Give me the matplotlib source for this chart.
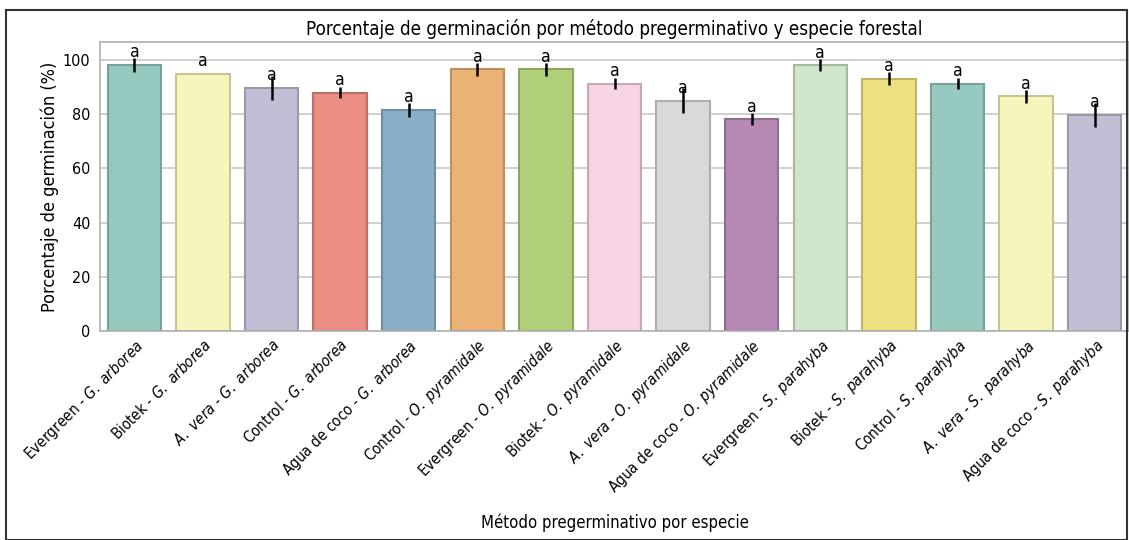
import numpy as np
import matplotlib.pyplot as plt
from matplotlib.patches import Rectangle
import seaborn as sns

# Texto algo estrechado, como en la figura original
plt.rcParams['font.family'] = 'DejaVu Sans'
plt.rcParams['font.stretch'] = 'condensed'
plt.rcParams['mathtext.fontset'] = 'custom'
plt.rcParams['mathtext.it'] = 'DejaVu Sans:italic:stretch=condensed'
plt.rcParams['mathtext.rm'] = 'DejaVu Sans:stretch=condensed'

# Datos
metodos = ['Evergreen', 'Biotek', r'$\mathit{A.\ vera}$', 'Control', 'Agua de coco',
           'Control', 'Evergreen', 'Biotek', r'$\mathit{A.\ vera}$', 'Agua de coco',
           'Evergreen', 'Biotek', 'Control', r'$\mathit{A.\ vera}$', 'Agua de coco']
especies = [r'$\mathit{G.\ arborea}$'] * 5 + [r'$\mathit{O.\ pyramidale}$'] * 5 + \
           [r'$\mathit{S.\ parahyba}$'] * 5
medias = [98.2, 94.8, 89.7, 88.0, 81.5,
          96.5, 96.5, 91.3, 84.9, 78.1,
          98.0, 93.1, 91.3, 86.6, 79.7]
errores = [2.6, 0.0, 4.5, 2.2, 2.5,
           2.4, 2.4, 2.1, 4.6, 2.2,
           2.2, 2.5, 2.1, 2.5, 4.3]
letras = ['a'] * 15

etiquetas = [f'{m} - {e}' for m, e in zip(metodos, especies)]

# Paleta Set3 desaturada, como la de seaborn por defecto
base = sns.color_palette('Set3', 12)
colores = [sns.desaturate(base[i % 12], 0.75) for i in range(len(medias))]
bordes = [tuple(np.array(c) * 0.8) for c in colores]

fig = plt.figure(figsize=(11.29, 5.4), dpi=100)
ax = fig.add_axes([0.0886, 0.387, 0.9114, 0.535])

x = np.arange(len(medias))
ax.bar(x, medias, width=0.78, color=colores, edgecolor=bordes, linewidth=1.5, zorder=2)
ax.errorbar(x, medias, yerr=errores, fmt='none', ecolor='black', elinewidth=1.8,
            capsize=0, zorder=3)

for xi, m, l in zip(x, medias, letras):
    ax.text(xi, m + 1.4, l, ha='center', va='bottom', fontsize=12.5, zorder=4)

ax.set_xlim(-0.5, 14.5)
ax.set_ylim(0, 106.6)
ax.set_yticks([0, 20, 40, 60, 80, 100])
ax.tick_params(axis='y', labelsize=11.5, length=0, pad=7)
ax.tick_params(axis='x', length=0, pad=4)
ax.set_xticks(x)
ax.set_xticklabels(etiquetas, rotation=45, ha='right', rotation_mode='anchor', fontsize=11)

ax.grid(axis='y', color='#c8c8c8', linewidth=1.2, zorder=0)
ax.set_axisbelow(True)
for s in ax.spines.values():
    s.set_color('#b0b0b0')
    s.set_linewidth(1.2)

ax.set_title('Porcentaje de germinación por método pregerminativo y especie forestal',
             fontsize=13.5, pad=5)
ax.set_ylabel('Porcentaje de germinación (%)', fontsize=13, labelpad=3)
ax.set_xlabel('Método pregerminativo por especie', fontsize=12, labelpad=12)

# Marco exterior de la figura
fig.patches.append(Rectangle((0.005, 0.0), 0.993, 0.981, transform=fig.transFigure,
                             fill=False, edgecolor='#333333', linewidth=1.5))

fig.savefig('out.png', dpi=100)
